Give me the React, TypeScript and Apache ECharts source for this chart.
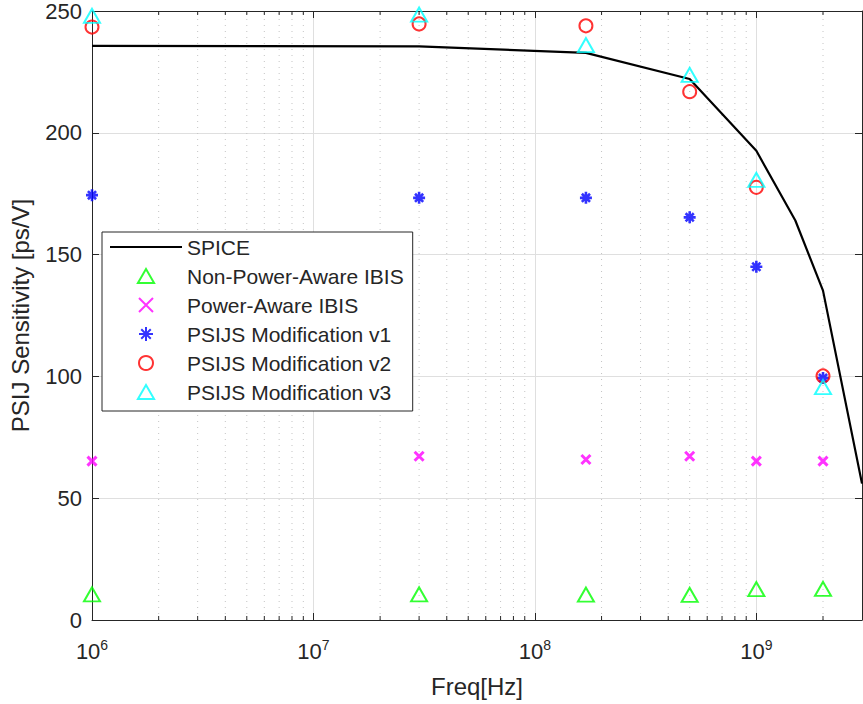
import React, { useEffect, useRef } from "react";
import * as echarts from "echarts";

const FONT = "'Liberation Sans', Arial, Helvetica, sans-serif";
const TXT = "#262626";

// Frequencies of the measured / simulated points (Hz)
const freqs = [1e6, 3e7, 1.7e8, 5e8, 1e9, 2e9];
// SPICE reference curve
const spiceFreqs = [1e6, 3e7, 1.7e8, 5e8, 1e9, 1.5e9, 2e9, 3e9];
const spiceVals = [235.7, 235.5, 232.8, 222.1, 192.6, 164, 135.2, 56];
// Marker series (ps/V)
const npaVals = [10.5, 10.5, 10.4, 10.3, 12.7, 12.8];
const paVals = [65.2, 67.2, 65.9, 67.2, 65.2, 65.2];
const v1Vals = [174.4, 173.3, 173.3, 165.3, 145, 99.3];
const v2Vals = [243.4, 244.7, 243.9, 216.9, 177.6, 100.2];
const v3Vals = [248, 248.5, 236, 223.8, 180.7, 95.6];

const seriesNames = [
  "SPICE",
  "Non-Power-Aware IBIS",
  "Power-Aware IBIS",
  "PSIJS Modification v1",
  "PSIJS Modification v2",
  "PSIJS Modification v3",
];

// axis settings
const xMin = 1e6;
const xMax = 3e9;
const yMin = 0;
const yMax = 250;
const yInterval = 50;
const decades = [1e6, 1e7, 1e8, 1e9];
const minorMultipliers = [2, 3, 4, 5, 6, 7, 8, 9];

const pairs = (xs: number[], ys: number[]) => xs.map((x, i) => [x, ys[i]]);

const STAR = "path://M5,0L5,10M0,5L10,5M1.6,1.6L8.4,8.4M8.4,1.6L1.6,8.4";
const CROSS = "path://M0,0L10,10M10,0L0,10";
const TRI = "path://M5,0L10,8.66L0,8.66Z";

export default function App() {
  const ref = useRef<HTMLDivElement>(null);

  useEffect(() => {
    if (!ref.current) return;
    const chart = echarts.init(ref.current, null, { renderer: "svg" });

    const minorVals: number[] = [];
    decades.forEach((d) =>
      minorMultipliers.forEach((m) => {
        const v = d * m;
        if (v < xMax) minorVals.push(v);
      })
    );

    const hollow = (c: string) => ({
      color: "rgba(0,0,0,0)",
      borderColor: c,
      borderWidth: 2,
    });

    const option: any = {
      animation: false,
      backgroundColor: "#fff",
      grid: { left: 89.5, right: 1, top: 10, bottom: 84, containLabel: false },
      xAxis: [
        {
          type: "log",
          logBase: 10,
          min: xMin,
          max: xMax,
          position: "bottom",
          name: "Freq[Hz]",
          nameLocation: "middle",
          nameGap: 54,
          nameTextStyle: { fontSize: 24, color: TXT, fontFamily: FONT },
          axisLine: { show: true, onZero: false, lineStyle: { color: TXT, width: 1 } },
          axisTick: { show: true, inside: true, length: 7, lineStyle: { color: TXT } },
          axisLabel: {
            showMaxLabel: false,
            margin: 18,
            formatter: (v: number) => {
              const e = Math.round(Math.log10(v));
              return `{b|10}{e|${e}}`;
            },
            rich: {
              b: { fontSize: 22, fontFamily: FONT, color: TXT, lineHeight: 24, verticalAlign: "bottom" },
              e: { fontSize: 14, fontFamily: FONT, color: TXT, lineHeight: 14, verticalAlign: "top" },
            },
          },
          splitLine: { show: true, lineStyle: { color: "#dfdfdf", width: 1 } },
        },
        {
          type: "log",
          logBase: 10,
          min: xMin,
          max: xMax,
          position: "top",
          axisLine: { show: true, onZero: false, lineStyle: { color: TXT, width: 1 } },
          axisTick: { show: true, inside: true, length: 7, lineStyle: { color: TXT } },
          axisLabel: { show: false },
          splitLine: { show: false },
        },
      ],
      yAxis: [
        {
          type: "value",
          min: yMin,
          max: yMax,
          interval: yInterval,
          position: "left",
          name: "PSIJ Sensitivity [ps/V]",
          nameLocation: "middle",
          nameGap: 60,
          nameTextStyle: { fontSize: 24, color: TXT, fontFamily: FONT },
          axisLine: { show: true, onZero: false, lineStyle: { color: TXT, width: 1 } },
          axisTick: { show: true, inside: true, length: 7, lineStyle: { color: TXT } },
          axisLabel: { fontSize: 22, color: TXT, fontFamily: FONT, margin: 10 },
          splitLine: { show: true, lineStyle: { color: "#dfdfdf", width: 1 } },
        },
        {
          type: "value",
          min: yMin,
          max: yMax,
          interval: yInterval,
          position: "right",
          axisLine: { show: true, onZero: false, lineStyle: { color: TXT, width: 1 } },
          axisTick: { show: true, inside: true, length: 7, lineStyle: { color: TXT } },
          axisLabel: { show: false },
          splitLine: { show: false },
        },
      ],
      legend: {
        data: seriesNames,
        orient: "vertical",
        left: 102,
        top: 232,
        itemWidth: 72,
        itemHeight: 14,
        itemGap: 5,
        padding: [3, 9, 7, 7],
        backgroundColor: "#fff",
        borderColor: TXT,
        borderWidth: 1,
        borderRadius: 0,
        selectedMode: false,
        symbolKeepAspect: true,
        textStyle: { fontSize: 21, color: TXT, fontFamily: FONT, lineHeight: 24 },
      },
      series: [
        {
          type: "custom",
          name: "minorGrid",
          silent: true,
          z: 1,
          data: minorVals.map((v) => [v, 0]),
          encode: { x: 0, y: 1 },
          renderItem: (params: any, api: any) => {
            const x = api.value(0);
            const top = api.coord([x, yMax]);
            const bot = api.coord([x, yMin]);
            return {
              type: "group",
              children: [
                {
                  type: "line",
                  shape: { x1: bot[0], y1: bot[1], x2: top[0], y2: top[1] },
                  style: { stroke: "#c4c4c4", lineWidth: 1, lineDash: [1, 5] },
                },
                {
                  type: "line",
                  shape: { x1: bot[0], y1: bot[1], x2: bot[0], y2: bot[1] - 4 },
                  style: { stroke: TXT, lineWidth: 1 },
                },
                {
                  type: "line",
                  shape: { x1: top[0], y1: top[1], x2: top[0], y2: top[1] + 4 },
                  style: { stroke: TXT, lineWidth: 1 },
                },
              ],
            };
          },
        },
        {
          type: "line",
          name: seriesNames[0],
          data: pairs(spiceFreqs, spiceVals),
          symbol: "none",
          lineStyle: { color: "#000", width: 2.2 },
          itemStyle: { color: "rgba(0,0,0,0)", borderColor: "rgba(0,0,0,0)" },
          z: 2,
        },
        {
          type: "scatter",
          name: seriesNames[1],
          data: pairs(freqs, npaVals),
          symbol: TRI,
          symbolSize: [16, 14],
          itemStyle: hollow("#00ff00"),
          clip: false,
          z: 3,
        },
        {
          type: "scatter",
          name: seriesNames[2],
          data: pairs(freqs, paVals),
          symbol: CROSS,
          symbolSize: 9,
          itemStyle: { color: "#ff00ff", borderColor: "#ff00ff", borderWidth: 3 },
          clip: false,
          z: 3,
        },
        {
          type: "scatter",
          name: seriesNames[3],
          data: pairs(freqs, v1Vals),
          symbol: STAR,
          symbolSize: 12,
          itemStyle: { color: "#0000ff", borderColor: "#0000ff", borderWidth: 2.6 },
          clip: false,
          z: 3,
        },
        {
          type: "scatter",
          name: seriesNames[4],
          data: pairs(freqs, v2Vals),
          symbol: "circle",
          symbolSize: 13,
          itemStyle: hollow("#ff0000"),
          clip: false,
          z: 3,
        },
        {
          type: "scatter",
          name: seriesNames[5],
          data: pairs(freqs, v3Vals),
          symbol: TRI,
          symbolSize: [16, 14],
          itemStyle: hollow("#00ffff"),
          clip: false,
          z: 3,
        },
      ],
    };

    chart.setOption(option);
    return () => chart.dispose();
  }, []);

  return (
    <div
      ref={ref}
      style={{ position: "fixed", left: 0, top: 0, width: 863, height: 704, background: "#fff" }}
    />
  );
}
